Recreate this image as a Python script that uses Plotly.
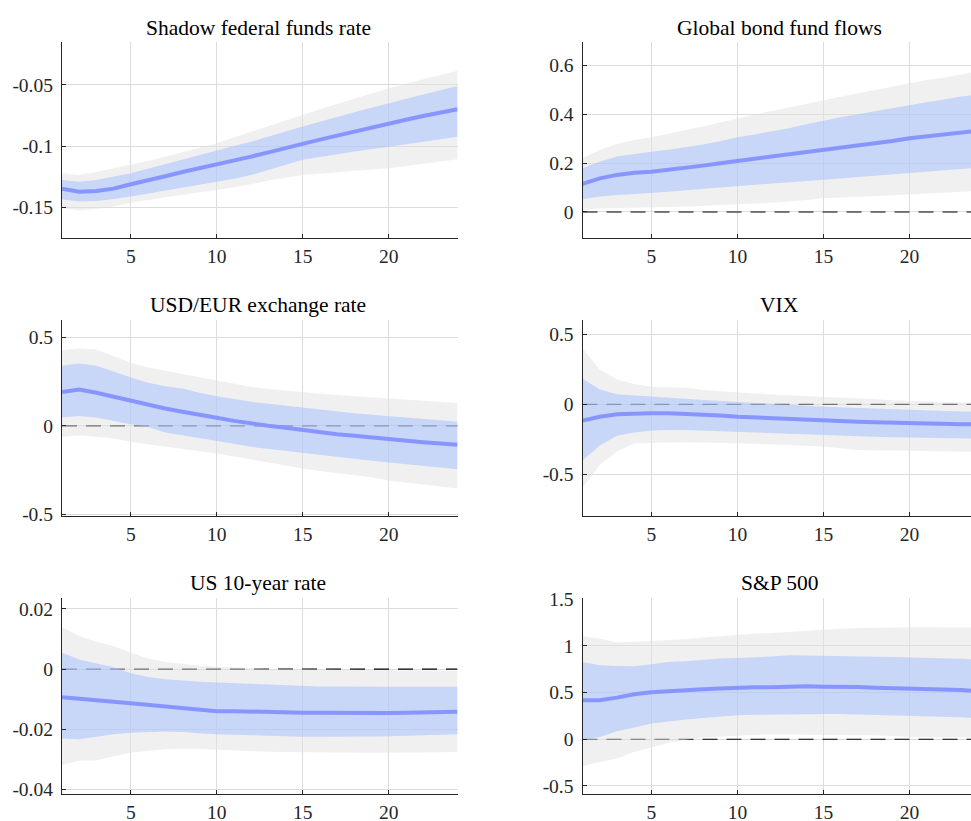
import plotly.graph_objects as go

horizon = list(range(1, 25))

titles = ["Shadow federal funds rate", "Global bond fund flows",
          "USD/EUR exchange rate", "VIX",
          "US 10-year rate", "S&P 500"]

# ---- Shadow federal funds rate
ffr_med = [-0.1345, -0.137, -0.1365, -0.1345, -0.131, -0.128, -0.1245, -0.121, -0.118, -0.1152, -0.112, -0.1085,
           -0.105, -0.1013, -0.098, -0.0947, -0.0914, -0.088, -0.0847, -0.0815, -0.0785, -0.0755, -0.0728, -0.070]
ffr_in_hi = [-0.1275, -0.129, -0.1275, -0.125, -0.122, -0.1183, -0.1145, -0.111, -0.107, -0.103, -0.0998, -0.0964,
             -0.0925, -0.088, -0.084, -0.080, -0.0763, -0.0725, -0.0688, -0.065, -0.0615, -0.058, -0.0545, -0.051]
ffr_in_lo = [-0.1432, -0.145, -0.1445, -0.143, -0.141, -0.1385, -0.136, -0.1335, -0.131, -0.129, -0.1265, -0.1235,
             -0.1195, -0.115, -0.111, -0.1088, -0.1066, -0.1044, -0.1022, -0.1004, -0.0985, -0.0965, -0.0945, -0.0923]
ffr_out_hi = [-0.122, -0.1234, -0.121, -0.118, -0.1153, -0.112, -0.1085, -0.105, -0.1015, -0.0977, -0.093, -0.0883,
              -0.0838, -0.079, -0.0745, -0.070, -0.0657, -0.0614, -0.057, -0.0528, -0.0493, -0.0458, -0.0422, -0.0386]
ffr_out_lo = [-0.1505, -0.152, -0.151, -0.149, -0.146, -0.1438, -0.1415, -0.1393, -0.1375, -0.1356, -0.1335, -0.131,
              -0.128, -0.1257, -0.1234, -0.1223, -0.1212, -0.120, -0.119, -0.118, -0.1162, -0.1143, -0.1125, -0.1107]

# ---- Global bond fund flows
gbf_med = [0.115, 0.138, 0.152, 0.161, 0.165, 0.172, 0.182, 0.19, 0.2, 0.209, 0.216, 0.227,
           0.236, 0.245, 0.254, 0.264, 0.272, 0.282, 0.291, 0.302, 0.309, 0.316, 0.325, 0.333]
gbf_in_hi = [0.179, 0.206, 0.227, 0.238, 0.247, 0.255, 0.265, 0.277, 0.29, 0.306, 0.318, 0.33,
             0.343, 0.36, 0.375, 0.388, 0.401, 0.414, 0.427, 0.439, 0.45, 0.461, 0.473, 0.48]
gbf_in_lo = [0.052, 0.063, 0.07, 0.074, 0.077, 0.083, 0.089, 0.095, 0.101, 0.107, 0.112, 0.117,
             0.122, 0.127, 0.131, 0.137, 0.143, 0.149, 0.155, 0.161, 0.166, 0.171, 0.176, 0.181]
gbf_out_hi = [0.22, 0.254, 0.279, 0.295, 0.306, 0.32, 0.335, 0.35, 0.367, 0.384, 0.399, 0.414,
              0.429, 0.444, 0.459, 0.473, 0.487, 0.5, 0.514, 0.528, 0.541, 0.55, 0.565, 0.578]
gbf_out_lo = [0.008, 0.014, 0.016, 0.018, 0.019, 0.021, 0.023, 0.026, 0.028, 0.031, 0.035, 0.038,
              0.042, 0.049, 0.056, 0.06, 0.063, 0.066, 0.069, 0.072, 0.075, 0.078, 0.082, 0.086]

# ---- USD/EUR exchange rate
fx_med = [0.191, 0.204, 0.186, 0.163, 0.139, 0.116, 0.098, 0.079, 0.06, 0.045, 0.028, 0.013,
          0.0, -0.011, -0.024, -0.034, -0.047, -0.056, -0.066, -0.077, -0.084, -0.092, -0.099, -0.107]
fx_in_hi = [0.338, 0.351, 0.338, 0.304, 0.272, 0.242, 0.223, 0.21, 0.186, 0.167, 0.151, 0.135,
            0.124, 0.113, 0.103, 0.091, 0.079, 0.071, 0.063, 0.056, 0.048, 0.04, 0.031, 0.023]
fx_in_lo = [0.047, 0.056, 0.047, 0.028, 0.009, -0.006, -0.038, -0.053, -0.069, -0.084, -0.101, -0.118,
            -0.13, -0.141, -0.152, -0.163, -0.174, -0.185, -0.197, -0.208, -0.217, -0.226, -0.235, -0.244]
fx_out_hi = [0.426, 0.435, 0.43, 0.392, 0.355, 0.328, 0.31, 0.291, 0.274, 0.257, 0.238, 0.219,
             0.208, 0.198, 0.188, 0.18, 0.173, 0.167, 0.16, 0.154, 0.148, 0.141, 0.135, 0.129]
fx_out_lo = [-0.062, -0.053, -0.062, -0.071, -0.09, -0.104, -0.118, -0.131, -0.143, -0.156, -0.172, -0.19,
             -0.207, -0.223, -0.24, -0.254, -0.267, -0.279, -0.29, -0.308, -0.318, -0.33, -0.342, -0.353]

# ---- VIX
vix_med = [-0.116, -0.088, -0.071, -0.066, -0.064, -0.064, -0.068, -0.074, -0.08, -0.088, -0.094, -0.1,
           -0.105, -0.11, -0.116, -0.12, -0.124, -0.128, -0.132, -0.135, -0.137, -0.139, -0.141, -0.142]
vix_in_hi = [0.185, 0.107, 0.073, 0.064, 0.055, 0.046, 0.038, 0.031, 0.025, 0.019, 0.013, 0.002,
             -0.004, -0.01, -0.017, -0.022, -0.027, -0.032, -0.036, -0.04, -0.044, -0.047, -0.05, -0.052]
vix_in_lo = [-0.4, -0.294, -0.223, -0.201, -0.187, -0.183, -0.182, -0.185, -0.19, -0.194, -0.198, -0.203,
             -0.208, -0.213, -0.218, -0.222, -0.226, -0.23, -0.234, -0.237, -0.239, -0.241, -0.243, -0.244]
vix_out_hi = [0.398, 0.249, 0.178, 0.145, 0.126, 0.122, 0.119, 0.102, 0.092, 0.083, 0.077, 0.071,
              0.066, 0.06, 0.055, 0.049, 0.043, 0.037, 0.03, 0.024, 0.021, 0.018, 0.015, 0.012]
vix_out_lo = [-0.597, -0.431, -0.337, -0.277, -0.273, -0.271, -0.27, -0.272, -0.274, -0.277, -0.281, -0.285,
              -0.289, -0.295, -0.301, -0.313, -0.325, -0.327, -0.329, -0.332, -0.334, -0.336, -0.338, -0.339]

# ---- US 10-year rate
us10_med = [-0.0094, -0.0098, -0.0103, -0.0109, -0.0114, -0.0119, -0.0123, -0.0131, -0.0136, -0.014, -0.014, -0.0142,
            -0.0144, -0.0145, -0.0145, -0.0145, -0.0146, -0.0147, -0.0146, -0.0146, -0.0145, -0.0145, -0.0143, -0.0142]
us10_in_hi = [0.0054, 0.0032, 0.0019, 0.0006, -0.0014, -0.0026, -0.0034, -0.0039, -0.0042, -0.0045, -0.0047, -0.005,
              -0.0052, -0.0055, -0.0057, -0.0058, -0.0058, -0.0059, -0.0059, -0.0059, -0.0059, -0.0059, -0.0059, -0.0059]
us10_in_lo = [-0.0231, -0.0233, -0.0225, -0.0217, -0.0212, -0.021, -0.0208, -0.0209, -0.0213, -0.0217, -0.0218, -0.022,
              -0.0222, -0.0224, -0.0225, -0.0225, -0.0225, -0.0225, -0.0224, -0.0223, -0.0222, -0.022, -0.0219, -0.0217]
us10_out_hi = [0.0139, 0.011, 0.0091, 0.0077, 0.0054, 0.0035, 0.0024, 0.0017, 0.0011, 0.0008, 0.0005, 0.0002,
               0.0001, 0.0, -0.0001, -0.0002, -0.0002, -0.0003, -0.0003, -0.0003, -0.0004, -0.0005, -0.0005, -0.0006]
us10_out_lo = [-0.0319, -0.0305, -0.0303, -0.029, -0.0278, -0.0272, -0.0267, -0.0266, -0.0266, -0.0267, -0.027, -0.0273,
               -0.0275, -0.0276, -0.0277, -0.0277, -0.0278, -0.0278, -0.0278, -0.0278, -0.0278, -0.0277, -0.0277, -0.0276]

# ---- S&P 500
spx_med = [0.418, 0.418, 0.446, 0.482, 0.504, 0.518, 0.529, 0.536, 0.543, 0.553, 0.557, 0.557,
           0.564, 0.568, 0.564, 0.564, 0.561, 0.553, 0.55, 0.543, 0.539, 0.536, 0.529, 0.514]
spx_in_hi = [0.829, 0.793, 0.786, 0.782, 0.804, 0.829, 0.836, 0.854, 0.864, 0.871, 0.878, 0.886,
             0.9, 0.898, 0.896, 0.893, 0.889, 0.885, 0.88, 0.875, 0.873, 0.871, 0.863, 0.854]
spx_in_lo = [0.0, 0.025, 0.086, 0.125, 0.168, 0.193, 0.211, 0.229, 0.246, 0.257, 0.263, 0.268,
             0.27, 0.271, 0.271, 0.271, 0.271, 0.264, 0.257, 0.25, 0.245, 0.24, 0.235, 0.229]
spx_out_hi = [1.103, 1.078, 1.036, 1.043, 1.053, 1.062, 1.071, 1.089, 1.105, 1.121, 1.13, 1.139,
              1.152, 1.165, 1.178, 1.185, 1.193, 1.196, 1.2, 1.203, 1.2, 1.196, 1.196, 1.196]
spx_out_lo = [-0.289, -0.243, -0.207, -0.136, -0.089, -0.036, -0.004, 0.018, 0.025, 0.032, 0.043, 0.054,
              0.05, 0.046, 0.043, 0.043, 0.043, 0.043, 0.034, 0.025, 0.022, 0.02, 0.019, 0.018]

# y tick values / labels per panel
ytick_vals = [[-0.15, -0.1, -0.05], [0, 0.2, 0.4, 0.6], [-0.5, 0, 0.5], [-0.5, 0, 0.5],
              [-0.04, -0.02, 0, 0.02], [-0.5, 0, 0.5, 1, 1.5]]
ytick_text = [["-0.15", "-0.1", "-0.05"], ["0", "0.2", "0.4", "0.6"], ["-0.5", "0", "0.5"], ["-0.5", "0", "0.5"],
              ["-0.04", "-0.02", "0", "0.02"], ["-0.5", "0", "0.5", "1", "1.5"]]
xtick_vals = [5, 10, 15, 20]
xtick_text = ["5", "10", "15", "20"]
y_ranges = [[-0.17466, -0.01504], [-0.1066, 0.698], [-0.5075, 0.5957], [-0.796, 0.602],
            [-0.04155, 0.02355], [-0.586, 1.51]]
zero_line = [False, True, True, True, True, True]

panels = [
    (ffr_med, ffr_in_hi, ffr_in_lo, ffr_out_hi, ffr_out_lo),
    (gbf_med, gbf_in_hi, gbf_in_lo, gbf_out_hi, gbf_out_lo),
    (fx_med, fx_in_hi, fx_in_lo, fx_out_hi, fx_out_lo),
    (vix_med, vix_in_hi, vix_in_lo, vix_out_hi, vix_out_lo),
    (us10_med, us10_in_hi, us10_in_lo, us10_out_hi, us10_out_lo),
    (spx_med, spx_in_hi, spx_in_lo, spx_out_hi, spx_out_lo),
]

W, H = 971, 821
# pixel geometry (left, right, top, bottom)
col_px = [(62.0, 457.5), (582.5, 971.0)]
row_px = [(41.7, 238.0), (320.0, 516.0), (598.3, 794.0)]
x_ranges = [[1, 24], [1, 23.57]]
title_cx = [258.0, 779.0]
title_cy = [28.0, 305.0, 583.3]

FONT = "Liberation Serif, Times New Roman, serif"
AX_COLOR = "#262626"
GRID = "#dcdcdc"
GRAY_FILL = "rgba(226,226,226,0.5)"
BLUE_FILL = "rgba(160,188,255,0.5)"
MED_COLOR = "rgb(135,150,255)"

fig = go.Figure()
layout = dict(width=W, height=H, margin=dict(l=0, r=0, t=0, b=0, pad=0, autoexpand=False),
              paper_bgcolor="white", plot_bgcolor="white", showlegend=False)
annotations = []

for i, (med, in_hi, in_lo, out_hi, out_lo) in enumerate(panels):
    r, c = divmod(i, 2)
    n = i + 1
    xa = "x" if n == 1 else f"x{n}"
    ya = "y" if n == 1 else f"y{n}"
    xkey = "xaxis" if n == 1 else f"xaxis{n}"
    ykey = "yaxis" if n == 1 else f"yaxis{n}"
    L, R = col_px[c]
    T, B = row_px[r]
    if zero_line[i]:
        fig.add_trace(go.Scatter(x=[horizon[0], horizon[-1]], y=[0, 0], mode="lines",
                                 line=dict(color="black", width=1.1, dash="15px,9px"),
                                 xaxis=xa, yaxis=ya, hoverinfo="skip"))
    fig.add_trace(go.Scatter(x=horizon + horizon[::-1], y=out_hi + out_lo[::-1], fill="toself",
                             fillcolor=GRAY_FILL, line=dict(width=0), mode="lines",
                             xaxis=xa, yaxis=ya, hoverinfo="skip"))
    fig.add_trace(go.Scatter(x=horizon + horizon[::-1], y=in_hi + in_lo[::-1], fill="toself",
                             fillcolor=BLUE_FILL, line=dict(width=0), mode="lines",
                             xaxis=xa, yaxis=ya, hoverinfo="skip"))
    fig.add_trace(go.Scatter(x=horizon, y=med, mode="lines",
                             line=dict(color=MED_COLOR, width=4),
                             xaxis=xa, yaxis=ya, hoverinfo="skip"))
    layout[xkey] = dict(domain=[L / W, R / W], range=x_ranges[c], anchor=ya, automargin=False,
                        tickmode="array", tickvals=xtick_vals, ticktext=xtick_text,
                        showgrid=True, gridcolor=GRID, gridwidth=1, zeroline=False,
                        showline=True, linecolor=AX_COLOR, linewidth=1.2,
                        ticks="inside", ticklen=4, tickcolor=AX_COLOR, tickwidth=1,
                        tickfont=dict(family=FONT, size=19.5, color=AX_COLOR))
    layout[ykey] = dict(domain=[1 - B / H, 1 - T / H], range=y_ranges[i], anchor=xa, automargin=False,
                        tickmode="array", tickvals=ytick_vals[i], ticktext=ytick_text[i],
                        showgrid=True, gridcolor=GRID, gridwidth=1, zeroline=False,
                        showline=True, linecolor=AX_COLOR, linewidth=1.2,
                        ticks="inside", ticklen=4, tickcolor=AX_COLOR, tickwidth=1,
                        ticklabelstandoff=4,
                        tickfont=dict(family=FONT, size=19.5, color=AX_COLOR))
    annotations.append(dict(text=titles[i], xref="paper", yref="paper",
                            x=title_cx[c] / W, y=1 - title_cy[r] / H,
                            xanchor="center", yanchor="middle", showarrow=False,
                            font=dict(family=FONT, size=21.5, color="black")))

layout["annotations"] = annotations
fig.update_layout(**layout)
fig.write_html("out.html")
